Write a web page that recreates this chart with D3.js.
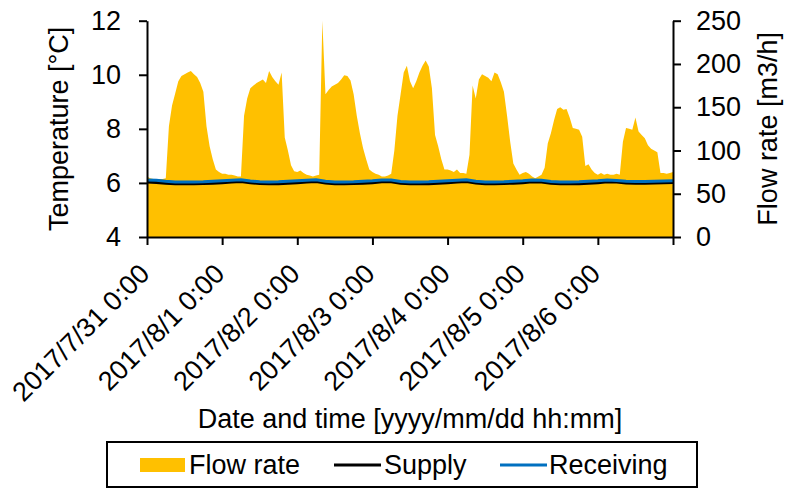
<!DOCTYPE html>
<html>
<head>
<meta charset="utf-8">
<script src="https://cdn.jsdelivr.net/npm/d3@7"></script>
<style>
    body { margin: 0; background: #fff; }
    svg text { font-family: "Liberation Sans", Arial, sans-serif; fill: #000; }
</style>
</head>
<body>
<svg id="chart" width="785" height="488"></svg>
<script>
"use strict";

// hours since 2017/7/31 0:00, hourly flow rate [m3/h]
var flowRate = [
    70, 68, 67, 67, 67, 67, 68, 128, 152, 166, 180, 186, 188, 190, 192, 188, 185, 178, 168, 128, 105, 90, 78, 75,
    73, 73, 72, 72, 71, 70, 70, 140, 160, 172, 175, 178, 180, 182, 178, 192, 185, 180, 176, 190, 115, 100, 83, 76,
    75, 77, 74, 72, 71, 70, 71, 72, 250, 165, 170, 174, 176, 178, 182, 187, 186, 181, 165, 140, 120, 103, 90, 78,
    75, 73, 72, 70, 70, 71, 73, 100, 140, 165, 190, 198, 180, 172, 180, 190, 198, 204, 197, 172, 118, 105, 90, 78,
    78, 77, 75, 78, 74, 74, 73, 95, 175, 160, 182, 188, 186, 184, 180, 190, 188, 179, 168, 140, 110, 85, 78, 72,
    74, 75, 73, 70, 68, 70, 72, 80, 108, 120, 135, 148, 150, 147, 148, 138, 126, 125, 124, 116, 82, 84, 78, 74,
    72, 74, 72, 73, 72, 72, 73, 72, 110, 126, 125, 124, 138, 122, 118, 114, 106, 102, 100, 98, 74, 74, 73, 74, 75
];

// temperatures every 3 hours [°C]
var supplyTemp = [
    6.03, 6.02, 5.99, 5.97, 5.97, 5.97, 5.98, 5.99,
    6.01, 6.03, 6.05, 6.01, 5.98, 5.97, 5.97, 5.99,
    6.01, 6.03, 6.05, 6.00, 5.97, 5.97, 5.98, 5.99,
    6.01, 6.04, 6.04, 5.99, 5.97, 5.97, 5.97, 5.99,
    6.01, 6.03, 6.05, 6.00, 5.97, 5.97, 5.98, 5.99,
    6.01, 6.04, 6.03, 5.99, 5.97, 5.97, 5.97, 5.99,
    6.01, 6.04, 6.03, 6.00, 5.99, 5.99, 6.00, 6.01,
    6.02
];
var receivingTemp = [
    6.11, 6.10, 6.06, 6.03, 6.03, 6.03, 6.04, 6.06,
    6.08, 6.10, 6.12, 6.07, 6.04, 6.03, 6.04, 6.06,
    6.08, 6.10, 6.12, 6.06, 6.03, 6.03, 6.04, 6.06,
    6.08, 6.11, 6.11, 6.05, 6.03, 6.03, 6.04, 6.06,
    6.08, 6.10, 6.12, 6.06, 6.03, 6.03, 6.04, 6.06,
    6.08, 6.11, 6.10, 6.05, 6.03, 6.03, 6.04, 6.06,
    6.08, 6.11, 6.09, 6.06, 6.05, 6.05, 6.06, 6.07,
    6.08
];

var dayLabels = [
    "2017/7/31 0:00", "2017/8/1 0:00", "2017/8/2 0:00", "2017/8/3 0:00",
    "2017/8/4 0:00", "2017/8/5 0:00", "2017/8/6 0:00"
];
var tempTicks = [4, 6, 8, 10, 12];
var flowTicks = [0, 50, 100, 150, 200, 250];

var svg = d3.select("#chart");

// plot box
var plotLeft = 147, plotRight = 673, plotTop = 20.7, plotBottom = 237;
var fontSize = 27;

var x = d3.scaleLinear().domain([0, 168]).range([plotLeft, plotRight]);
var yTemp = d3.scaleLinear().domain([4, 12]).range([plotBottom, plotTop]);
var yFlow = d3.scaleLinear().domain([0, 250]).range([plotBottom, plotTop]);

// flow rate area (secondary axis)
var area = d3.area()
    .x(function (d, i) { return x(i); })
    .y0(yFlow(0))
    .y1(function (d) { return yFlow(d); });

svg.append("path")
    .datum(flowRate)
    .attr("d", area)
    .attr("fill", "#FFC000");

// temperature lines
var line = d3.line()
    .x(function (d, i) { return x(i * 3); })
    .y(function (d) { return yTemp(d); });

svg.append("path")
    .datum(supplyTemp)
    .attr("d", line)
    .attr("fill", "none")
    .attr("stroke", "#000")
    .attr("stroke-width", 3);

svg.append("path")
    .datum(receivingTemp)
    .attr("d", line)
    .attr("fill", "none")
    .attr("stroke", "#0070C0")
    .attr("stroke-width", 3);

// axes
function styleAxis(g) {
    g.selectAll(".domain").attr("stroke", "#000").attr("stroke-width", 2);
    g.selectAll(".tick line").attr("stroke", "#000").attr("stroke-width", 2);
    g.selectAll("text")
        .style("font-size", fontSize + "px")
        .style("font-family", "'Liberation Sans', Arial, sans-serif")
        .attr("fill", "#000");
}

svg.append("g")
    .attr("transform", "translate(" + plotLeft + ",0)")
    .call(d3.axisLeft(yTemp).tickValues(tempTicks).tickSize(8).tickSizeOuter(0).tickPadding(18))
    .call(styleAxis);

svg.append("g")
    .attr("transform", "translate(" + plotRight + ",0)")
    .call(d3.axisRight(yFlow).tickValues(flowTicks).tickSize(8).tickSizeOuter(0).tickPadding(15))
    .call(styleAxis);

svg.append("g")
    .attr("transform", "translate(0," + plotBottom + ")")
    .call(d3.axisBottom(x).tickValues(d3.range(0, 169, 24)).tickSize(8).tickSizeOuter(0).tickFormat(""))
    .call(styleAxis);

// rotated date labels
svg.append("g")
    .selectAll("text")
    .data(dayLabels)
    .enter()
    .append("text")
    .attr("transform", function (d, i) {
        return "translate(" + (x(i * 24) + 4) + "," + (plotBottom + 38.5) + ") rotate(-45)";
    })
    .attr("text-anchor", "end")
    .style("font-size", fontSize + "px")
    .text(function (d) { return d; });

// axis titles
svg.append("text")
    .attr("transform", "translate(67.5," + ((plotTop + plotBottom) / 2) + ") rotate(-90)")
    .attr("text-anchor", "middle")
    .style("font-size", fontSize + "px")
    .text("Temperature [°C]");

svg.append("text")
    .attr("transform", "translate(776.5," + ((plotTop + plotBottom) / 2) + ") rotate(-90)")
    .attr("text-anchor", "middle")
    .style("font-size", fontSize + "px")
    .text("Flow rate [m3/h]");

svg.append("text")
    .attr("x", (plotLeft + plotRight) / 2)
    .attr("y", 427.5)
    .attr("text-anchor", "middle")
    .style("font-size", fontSize + "px")
    .text("Date and time [yyyy/mm/dd hh:mm]");

// legend
var legend = svg.append("g");
legend.append("rect")
    .attr("x", 107).attr("y", 442)
    .attr("width", 590).attr("height", 45)
    .attr("fill", "#fff")
    .attr("stroke", "#000")
    .attr("stroke-width", 2);

legend.append("rect")
    .attr("x", 140).attr("y", 458)
    .attr("width", 45).attr("height", 14)
    .attr("fill", "#FFC000");
legend.append("text")
    .attr("x", 189).attr("y", 473.5)
    .style("font-size", fontSize + "px")
    .text("Flow rate");

legend.append("line")
    .attr("x1", 334).attr("x2", 381)
    .attr("y1", 465).attr("y2", 465)
    .attr("stroke", "#000").attr("stroke-width", 3);
legend.append("text")
    .attr("x", 384).attr("y", 473.5)
    .style("font-size", fontSize + "px")
    .text("Supply");

legend.append("line")
    .attr("x1", 500).attr("x2", 547)
    .attr("y1", 465).attr("y2", 465)
    .attr("stroke", "#0070C0").attr("stroke-width", 3);
legend.append("text")
    .attr("x", 549).attr("y", 473.5)
    .style("font-size", fontSize + "px")
    .text("Receiving");
</script>
</body>
</html>
